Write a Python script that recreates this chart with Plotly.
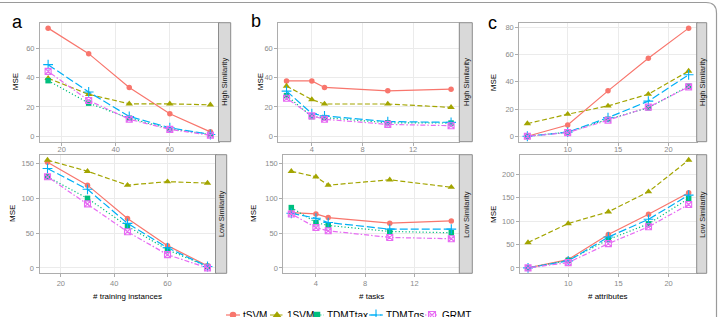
import plotly.graph_objects as go

W, H = 718, 317

methods = ["tSVM", "1SVM", "TDMTtax", "TDMTgs", "GRMT"]
colors = ["#F8766D", "#A3A500", "#00BF7D", "#00B0F6", "#E76BF3"]

# panel a: training instances
x_a = [15, 30, 45, 60, 75]
a_high = {
    "tSVM": [73.7, 56.3, 33.3, 15.3, 3.0],
    "1SVM": [39.5, 28.6, 22.1, 22.1, 21.4],
    "TDMTtax": [37.9, 22.6, 12.3, 5.1, 1.2],
    "TDMTgs": [48.8, 30.2, 13.5, 5.8, 1.2],
    "GRMT": [44.2, 24.4, 11.6, 4.7, 0.7],
}
a_low = {
    "tSVM": [152, 119, 71, 32, 3],
    "1SVM": [155, 139, 119, 124, 122],
    "TDMTtax": [131, 100, 60, 26, 2],
    "TDMTgs": [143, 113, 64, 29, 2],
    "GRMT": [131, 92, 52, 19, 0],
}
# panel b: tasks
x_b = [2, 4, 5, 10, 15]
b_high = {
    "tSVM": [37.7, 37.7, 33.3, 31.0, 32.1],
    "1SVM": [34.2, 25.0, 22.0, 22.0, 19.7],
    "TDMTtax": [27.7, 13.4, 12.7, 9.2, 9.0],
    "TDMTgs": [30.8, 15.5, 13.9, 10.0, 9.5],
    "GRMT": [25.9, 13.9, 11.6, 8.1, 7.2],
}
b_low = {
    "tSVM": [79.5, 77.6, 72.4, 64.3, 67.6],
    "1SVM": [139, 131, 119, 126.7, 116],
    "TDMTtax": [86.7, 65.2, 61, 52.4, 50.5],
    "TDMTgs": [78.6, 71.4, 65.2, 55.7, 55.7],
    "GRMT": [77.6, 58, 53.3, 43.8, 41.9],
}
# panel c: attributes
x_c = [6, 10, 14, 18, 22]
c_high = {
    "tSVM": [0.0, 8.3, 33.4, 57.4, 79.5],
    "1SVM": [9.3, 16.2, 22.3, 30.9, 47.9],
    "TDMTtax": [0.0, 3.0, 12.5, 20.9, 36.8],
    "TDMTgs": [0.0, 3.0, 13.7, 25.8, 45.2],
    "GRMT": [0.0, 2.7, 11.8, 21.4, 36.3],
}
c_low = {
    "tSVM": [0, 17.9, 71.4, 115, 160.7],
    "1SVM": [54.3, 95, 120, 163, 230.7],
    "TDMTtax": [0, 16, 60.7, 94.3, 148.6],
    "TDMTgs": [0, 15, 66, 104, 155.7],
    "GRMT": [0, 11.4, 52, 88, 135.7],
}

xtitles = ["# training instances", "# tasks", "# attributes"]
strip_labels = ["High Similarity", "Low Similarity"]
panel_letters = ["a", "b", "c"]

# styling
symbols = ["circle", "triangle-up", "square", "cross-thin-open", "square-x-open"]
msizes = [5.5, 6.5, 5.5, 7, 6]
dashes = ["solid", "5px,2.5px", "1.2px,2.2px", "8px,3px", "1.5px,2px,5px,2px"]

# panel geometry in pixels: (left, right, top, bottom, strip_right)
panels = [
    (40, 218.5, 22.7, 141.7, 230.7),   # a high
    (39.5, 215.5, 154.7, 273.3, 226.7),  # a low
    (278.3, 459.3, 22.7, 141.7, 472.3),  # b high
    (283.3, 459.3, 154.7, 273.3, 472.3),  # b low
    (519.3, 696.7, 22.7, 141.7, 706.7),  # c high
    (520, 696.7, 154.7, 273.3, 706.7),   # c low
]
xranges = [[12, 78], [12, 78], [1.35, 15.65], [1.35, 15.65], [5.2, 22.8], [5.2, 22.8]]
yranges = [[-3.7, 77.4], [-7.8, 162.8], [-3.7, 77.4], [-7.8, 162.8], [-4, 83.5], [-11.5, 242.2]]
xticks = [[20, 40, 60]] * 2 + [[4, 8, 12]] * 2 + [[10, 15, 20]] * 2
yticks = [[0, 20, 40, 60], [0, 50, 100, 150], [0, 20, 40, 60], [0, 50, 100, 150],
          [0, 20, 40, 60, 80], [0, 50, 100, 150, 200]]
data_sets = [(x_a, a_high), (x_a, a_low), (x_b, b_high), (x_b, b_low), (x_c, c_high), (x_c, c_low)]

fig = go.Figure()
layout = {}
shapes = []
annotations = []

def px2x(p):
    return p / W

def px2y(p):
    return 1 - p / H

for i, ((l, r, t, b, sr), (xs, ds)) in enumerate(zip(panels, data_sets)):
    k = i + 1
    xa = "xaxis" if k == 1 else f"xaxis{k}"
    ya = "yaxis" if k == 1 else f"yaxis{k}"
    xref = "x" if k == 1 else f"x{k}"
    yref = "y" if k == 1 else f"y{k}"
    common = dict(showline=True, mirror=True, linecolor="#ADADAD", linewidth=1,
                  showgrid=True, gridcolor="#EBEBEB", gridwidth=0.8, zeroline=False,
                  ticks="outside", ticklen=3, tickcolor="#ADADAD", tickwidth=1,
                  tickfont=dict(family="Liberation Sans, Arial", size=7.5, color="#8A8A8A"),
                  automargin=False)
    xextra = dict(ticklabelstandoff=-3) if i % 2 == 0 else {}
    layout[xa] = dict(domain=[px2x(l), px2x(r)], anchor=yref, range=xranges[i],
                      tickvals=xticks[i], **common, **xextra)
    layout[ya] = dict(domain=[px2y(b), px2y(t)], anchor=xref, range=yranges[i],
                      tickvals=yticks[i], **common)
    for j, m in enumerate(methods):
        fig.add_trace(go.Scatter(
            x=xs, y=ds[m], xaxis=xref, yaxis=yref, mode="lines+markers", name=m,
            showlegend=False, cliponaxis=False,
            line=dict(color=colors[j], width=1.2, dash=dashes[j]),
            marker=dict(symbol=symbols[j], size=msizes[j], color=colors[j],
                        line=dict(color=colors[j], width=1.1 if j >= 3 else 0)),
        ))
    # strip
    shapes.append(dict(type="rect", xref="paper", yref="paper",
                       x0=px2x(r), x1=px2x(sr), y0=px2y(b), y1=px2y(t),
                       fillcolor="#D9D9D9", line=dict(color="#8C8C8C", width=1)))
    annotations.append(dict(xref="paper", yref="paper", x=px2x((r + sr) / 2), y=px2y((t + b) / 2),
                            text=strip_labels[i % 2], textangle=-90, showarrow=False,
                            font=dict(family="Liberation Sans, Arial", size=7.5, color="#1A1A1A"),
                            xanchor="center", yanchor="middle"))
    # y title
    mse_x = [15, 12, 260, 253, 493, 493][i]
    annotations.append(dict(xref="paper", yref="paper", x=px2x(mse_x), y=px2y((t + b) / 2),
                            text="MSE", textangle=-90, showarrow=False,
                            font=dict(family="Liberation Sans, Arial", size=8, color="#000000"),
                            xanchor="center", yanchor="middle"))
    if i % 2 == 1:
        annotations.append(dict(xref="paper", yref="paper", x=px2x((l + r) / 2), y=px2y(296),
                                text=xtitles[i // 2], showarrow=False,
                                font=dict(family="Liberation Sans, Arial", size=8, color="#000000"),
                                xanchor="center", yanchor="middle"))

# panel letters
for lt, (lx, ly) in zip(panel_letters, [(17, 22), (256, 21), (493, 23)]):
    annotations.append(dict(xref="paper", yref="paper", x=px2x(lx), y=px2y(ly),
                            text=lt, showarrow=False,
                            font=dict(family="Liberation Sans, Arial", size=18, color="#000000"),
                            xanchor="center", yanchor="middle"))

# legend drawn on overlay axis (pixel space)
legend_marker_x = [233, 277, 317, 376, 432]
legend_y = 315
layout["xaxis7"] = dict(domain=[0, 1], range=[0, W], visible=False, anchor="y7", fixedrange=True)
layout["yaxis7"] = dict(domain=[0, 1], range=[H, 0], visible=False, anchor="x7", fixedrange=True)
for j, m in enumerate(methods):
    cx = legend_marker_x[j]
    fig.add_trace(go.Scatter(
        x=[cx - 7, cx + 7], y=[legend_y, legend_y], xaxis="x7", yaxis="y7", mode="lines",
        showlegend=False, line=dict(color=colors[j], width=1.2, dash=dashes[j]), hoverinfo="skip"))
    fig.add_trace(go.Scatter(
        x=[cx], y=[legend_y], xaxis="x7", yaxis="y7", mode="markers", showlegend=False,
        marker=dict(symbol=symbols[j], size=msizes[j] + 1, color=colors[j],
                    line=dict(color=colors[j], width=1.1 if j >= 3 else 0)), hoverinfo="skip"))
    annotations.append(dict(xref="paper", yref="paper", x=px2x(cx + 8), y=px2y(legend_y),
                            text=m, showarrow=False, xanchor="left", yanchor="middle",
                            font=dict(family="Liberation Sans, Arial", size=10, color="#000000")))

# outer frame (top line with rounded top-right corner)
shapes.append(dict(type="path", xref="paper", yref="paper",
                   path=f"M 0,{px2y(2.5)} L {px2x(706)},{px2y(2.5)} Q {px2x(716.5)},{px2y(2.5)} {px2x(716.5)},{px2y(13)} L {px2x(716.5)},0",
                   line=dict(color="#9A9A9A", width=1.2)))

fig.update_layout(
    width=W, height=H,
    margin=dict(l=0, r=0, t=0, b=0, autoexpand=False),
    paper_bgcolor="white", plot_bgcolor="rgba(0,0,0,0)",
    showlegend=False,
    shapes=shapes, annotations=annotations,
    **layout,
)
fig.write_html("out.html")
